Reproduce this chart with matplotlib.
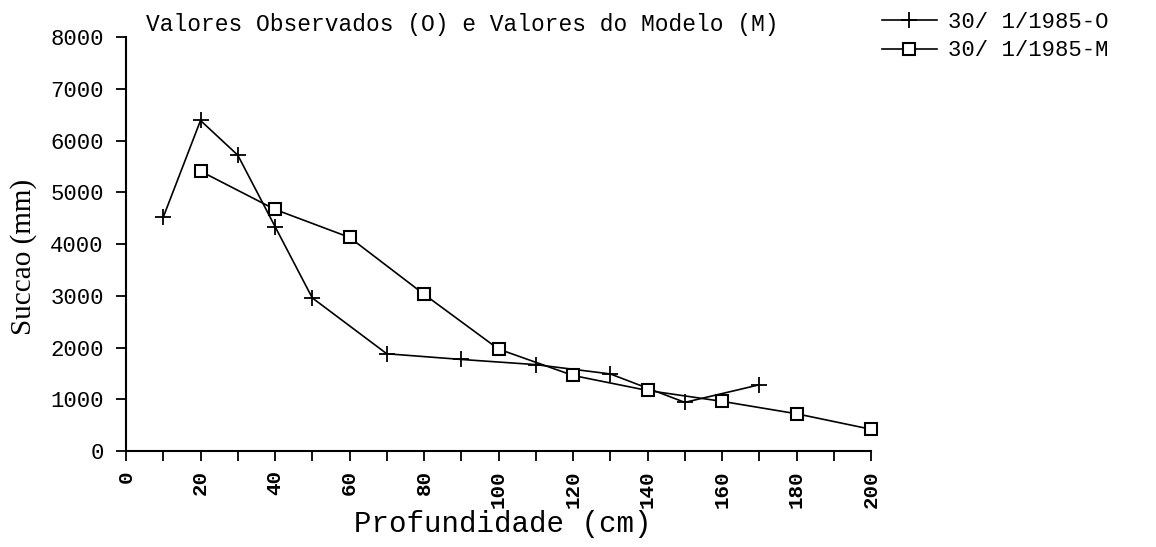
import numpy as np
import matplotlib
matplotlib.use("Agg")
import matplotlib.pyplot as plt

# observed (O) and model (M) suction profiles, 30/1/1985
prof_obs = [10, 20, 30, 40, 50, 70, 90, 110, 130, 150, 170]
succ_obs = [4520, 6390, 5720, 4340, 2960, 1880, 1770, 1670, 1490, 940, 1280]
prof_mod = [20, 40, 60, 80, 100, 120, 140, 160, 180, 200]
succ_mod = [5410, 4670, 4130, 3030, 1970, 1460, 1170, 960, 720, 420]
lab_obs = "30/ 1/1985-O"
lab_mod = "30/ 1/1985-M"

mono = "Liberation Mono"
serif = "Liberation Serif"

fig = plt.figure(figsize=(11.56, 5.47), dpi=100)
ax = fig.add_axes([0.109, 0.1755, 0.6445, 0.7565])

l1, = ax.plot(prof_obs, succ_obs, color="black", lw=1.2, marker="+",
              markersize=12, markeredgewidth=1.3, clip_on=False)
l2, = ax.plot(prof_mod, succ_mod, color="black", lw=1.2, marker="s",
              markersize=9, markerfacecolor="white", markeredgecolor="black",
              markeredgewidth=1.5, clip_on=False)

ax.set_xlim(0, 200)
ax.set_ylim(0, 8000)
ax.set_xticks(np.arange(0, 201, 10))
ax.set_xticklabels([str(v) if v % 20 == 0 else "" for v in range(0, 201, 10)],
                   rotation=90, fontfamily=mono, fontsize=15, fontweight="bold")
ax.set_yticks(np.arange(0, 8001, 1000))
for t in ax.get_yticklabels():
    t.set_fontfamily(mono)
    t.set_fontsize(16)
ax.tick_params(direction="out", length=7, width=1.3, colors="black")
ax.tick_params(axis="y", pad=9)
ax.tick_params(axis="x", pad=7)
ax.spines["top"].set_visible(False)
ax.spines["right"].set_visible(False)
ax.spines["left"].set_linewidth(1.5)
ax.spines["bottom"].set_linewidth(1.5)

fig.text(0.40, 0.935, "Valores Observados (O) e Valores do Modelo (M)",
         ha="center", va="bottom", fontfamily=mono, fontsize=16.5)
fig.text(0.435, 0.042, "Profundidade (cm)", ha="center", va="center",
         fontfamily=mono, fontsize=21)
fig.text(0.02, 0.53, "Succao (mm)", ha="center", va="center",
         rotation=90, fontfamily=serif, fontsize=21)

leg = fig.legend([l1, l2], [lab_obs, lab_mod], loc="upper left",
                 bbox_to_anchor=(0.755, 0.995), frameon=False,
                 prop={"family": mono, "size": 16}, handlelength=2.5,
                 handletextpad=0.5, labelspacing=0.35, borderaxespad=0.0)

fig.savefig("out.png", dpi=100)
